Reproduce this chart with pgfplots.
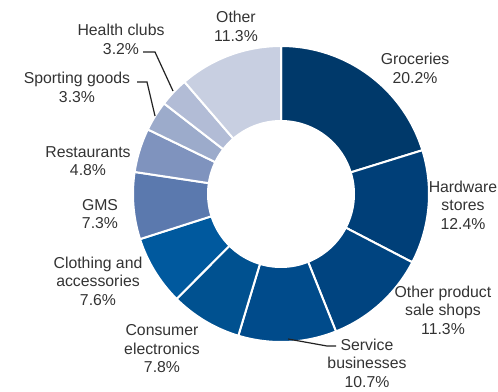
\documentclass[border=0pt]{standalone}
\usepackage{pgfplots}
\pgfplotsset{compat=1.18}
\usepackage{pgfplotstable}
\usepackage{fontspec}
\setmainfont{Liberation Sans}

% Share of sales by business category (%), clockwise from the top
\pgfplotstableread{
idx share
0  20.2
1  12.4
2  11.3
3  10.7
4  7.8
5  7.6
6  7.3
7  4.8
8  3.3
9  3.2
10 11.3
}\sharetable

\definecolor{c0}{HTML}{00396A}
\definecolor{c1}{HTML}{003F78}
\definecolor{c2}{HTML}{004480}
\definecolor{c3}{HTML}{004B8B}
\definecolor{c4}{HTML}{005190}
\definecolor{c5}{HTML}{00599E}
\definecolor{c6}{HTML}{5B79AE}
\definecolor{c7}{HTML}{7F93BE}
\definecolor{c8}{HTML}{9CABCB}
\definecolor{c9}{HTML}{B2BCD6}
\definecolor{c10}{HTML}{C8CFE1}
\definecolor{textgray}{HTML}{333333}
\definecolor{leader}{HTML}{222222}

\tikzset{lbl/.style={align=center, inner sep=0pt, text=textgray,
    font=\fontsize{15.8}{18.5}\selectfont}}

\begin{document}
\begin{tikzpicture}
\useasboundingbox (0,0) rectangle (498pt,391pt);
\begin{axis}[
  at={(0,0)}, anchor=south west,
  hide axis, scale only axis,
  width=498pt, height=391pt,
  xmin=0, xmax=498, ymin=0, ymax=391,
  y dir=reverse, clip=false,
]
% total of all shares, so the ring closes exactly
\pgfmathsetmacro\total{0}
\pgfplotsinvokeforeach{0,...,10}{
  \pgfplotstablegetelem{#1}{share}\of\sharetable
  \pgfmathsetmacro\newtotal{\total+\pgfplotsretval}
  \global\let\total\newtotal
}
\pgfmathsetmacro\degper{360/\total}
\gdef\cum{0}
\pgfplotsinvokeforeach{0,...,10}{
  \pgfplotstablegetelem{#1}{share}\of\sharetable
  \pgfmathsetmacro\angA{90-\cum*\degper}
  \pgfmathsetmacro\angB{90-(\cum+\pgfplotsretval)*\degper}
  \pgfmathsetmacro\newcum{\cum+\pgfplotsretval}
  \global\let\cum\newcum
  \edef\wedge{\noexpand\addplot[fill=c#1, draw=white, line width=2pt,
      line join=miter, domain=\angB:\angA, samples=60, mark=none]
    ({281+148*cos(x)},{194-148*sin(x)}) -- (axis cs:281,194) -- cycle;}
  \wedge
}
% hole of the ring
\addplot[fill=white, draw=none, domain=0:360, samples=180, mark=none]
  ({281+74*cos(x)},{194-74*sin(x)}) -- cycle;

% labels
\node[lbl] at (axis cs:236,26.5) {Other\\11.3\%};
\node[lbl] at (axis cs:415,68.5) {Groceries\\20.2\%};
\node[lbl] at (axis cs:463,205) {Hardware\\stores\\12.4\%};
\node[lbl] at (axis cs:443,310) {Other product\\sale shops\\11.3\%};
\node[lbl] at (axis cs:367,363) {Service\\businesses\\10.7\%};
\node[lbl] at (axis cs:162,348.7) {Consumer\\electronics\\7.8\%};
\node[lbl] at (axis cs:98,281) {Clothing and\\accessories\\7.6\%};
\node[lbl] at (axis cs:100,214) {GMS\\7.3\%};
\node[lbl] at (axis cs:88,161) {Restaurants\\4.8\%};
\node[lbl] at (axis cs:77,87.5) {Sporting goods\\3.3\%};
\node[lbl] at (axis cs:121,39.5) {Health clubs\\3.2\%};

% leader lines
\draw[leader, line width=1.2pt] (axis cs:143,52) -- (axis cs:155,52) -- (axis cs:173,91);
\draw[leader, line width=1.2pt] (axis cs:137,82) -- (axis cs:147,82) -- (axis cs:155,116);
\draw[leader, line width=1.2pt] (axis cs:288,339) -- (axis cs:327,346) -- (axis cs:336,346);
\end{axis}
\end{tikzpicture}
\end{document}
